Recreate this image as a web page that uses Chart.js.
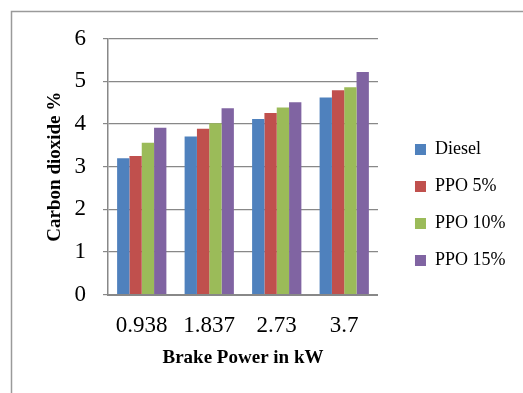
<!DOCTYPE html>
<html lang="en">
<head>
  <meta charset="UTF-8">
  <title>Carbon dioxide vs brake power</title>
  <script src="https://cdn.jsdelivr.net/npm/chart.js"></script>
  <style>
    html, body { margin: 0; padding: 0; background: #fff; }
    #wrap { width: 523px; height: 393px; position: relative; }
  </style>
</head>
<body>
  <div id="wrap"><canvas id="chart" width="523" height="393"></canvas></div>

  <script>
// categories (brake power, kW)
var categories = ["0.938", "1.837", "2.73", "3.7"];

// CO2 % per fuel
var diesel = [3.20, 3.71, 4.12, 4.62];
var ppo5   = [3.25, 3.89, 4.26, 4.79];
var ppo10  = [3.56, 4.02, 4.39, 4.86];
var ppo15  = [3.91, 4.37, 4.51, 5.22];

var seriesNames = ["Diesel", "PPO 5%", "PPO 10%", "PPO 15%"];
var seriesColors = ["#4F81BD", "#C0504D", "#9BBB59", "#8064A2"];
var yTicks = [0, 1, 2, 3, 4, 5, 6];

var serif = "'Liberation Serif', 'Times New Roman', serif";

/* Outer frame of the picture (only left and top edges are visible) */
var framePlugin = {
  id: "frame",
  beforeDraw: function(chart) {
    var ctx = chart.ctx;
    ctx.save();
    ctx.strokeStyle = "#9a9a9a";
    ctx.lineWidth = 1.5;
    ctx.beginPath();
    ctx.moveTo(11.5, 393);
    ctx.lineTo(11.5, 11.5);
    ctx.lineTo(523, 11.5);
    ctx.stroke();
    ctx.restore();
  }
};

var values = [diesel, ppo5, ppo10, ppo15];
var datasets = [];
for (var i = 0; i < seriesNames.length; i++) {
  datasets.push({
    label: seriesNames[i],
    data: values[i],
    backgroundColor: seriesColors[i],
    borderWidth: 0,
    categoryPercentage: 0.73,
    barPercentage: 1.0
  });
}

new Chart(document.getElementById("chart"), {
  type: "bar",
  data: { labels: categories, datasets: datasets },
  plugins: [framePlugin],
  options: {
    responsive: false,
    animation: false,
    layout: { padding: { top: 38.7, bottom: 21.7, left: 30, right: 7.5 } },
    plugins: {
      tooltip: { enabled: false },
      legend: {
        position: "right",
        align: "center",
        maxWidth: 200,
        labels: {
          boxWidth: 11,
          boxHeight: 11,
          padding: 19,
          color: "#000",
          font: { family: serif, size: 18 }
        }
      }
    },
    scales: {
      x: {
        grid: { display: false },
        border: { display: true, color: "#888888", width: 2 },
        ticks: {
          color: "#000",
          padding: 9,
          maxRotation: 0,
          font: { family: serif, size: 23 }
        },
        title: {
          display: true,
          text: "Brake Power in kW",
          color: "#000",
          padding: { top: 0, bottom: 2 },
          font: { family: serif, size: 19, weight: "bold" }
        },
        afterFit: function(scale) { scale.height = 76.6; }
      },
      y: {
        min: 0,
        max: 6,
        afterBuildTicks: function(scale) {
          scale.ticks = yTicks.map(function(v) { return { value: v }; });
        },
        grid: { color: "#888888", lineWidth: 1.2, tickLength: 5 },
        border: { display: true, color: "#888888", width: 1.5 },
        ticks: {
          color: "#000",
          padding: 17,
          font: { family: serif, size: 23 }
        },
        title: {
          display: true,
          text: "Carbon dioxide %",
          color: "#000",
          padding: { top: 13.6, bottom: 0 },
          font: { family: serif, size: 19, weight: "bold" }
        },
        afterFit: function(scale) { scale.width = 78; }
      },
      // empty right-hand spacer between plot and legend
      gap: {
        type: "linear",
        position: "right",
        display: true,
        grid: { display: false },
        border: { display: false },
        ticks: { display: false },
        afterFit: function(scale) { scale.width = 18; }
      }
    }
  }
});
  </script>
</body>
</html>
